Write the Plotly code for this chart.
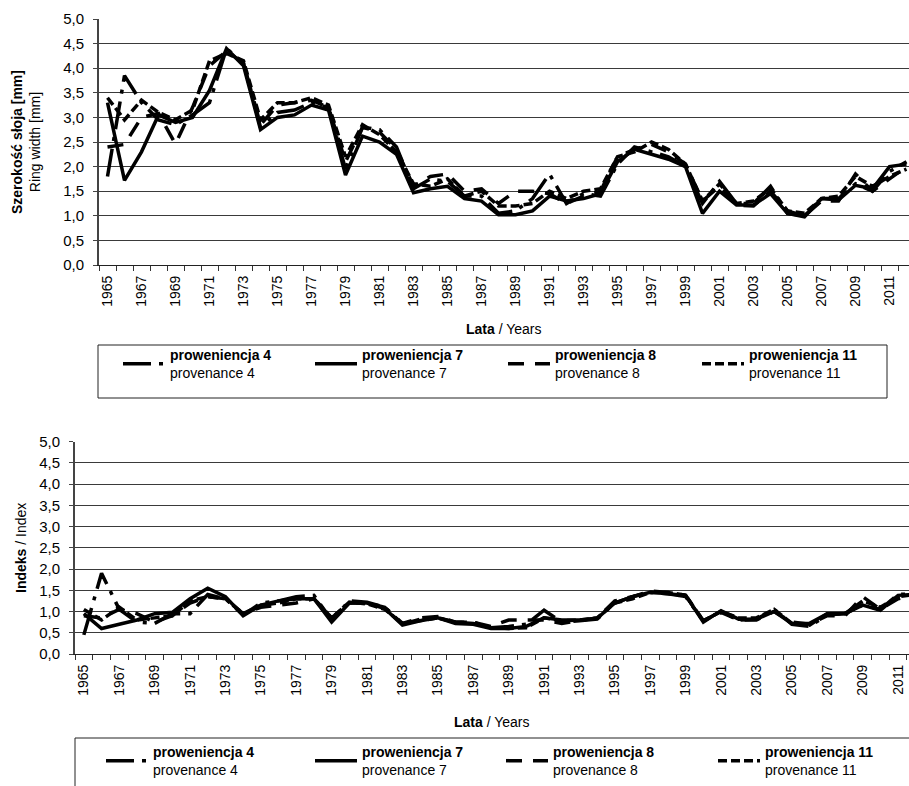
import plotly.graph_objects as go

years = list(range(1965, 2013))
tick_years = [y for y in years if (y - 1965) % 2 == 0 and y <= 2011]

# Ring width [mm]
ring_p4 = [1.80, 3.85, 3.30, 2.95, 2.85, 3.05, 3.30, 4.40, 4.10, 2.80,
           3.10, 3.15, 3.30, 3.20, 1.95, 2.80, 2.75, 2.40, 1.55, 1.75,
           1.70, 1.40, 1.40, 1.05, 1.10, 1.35, 1.85, 1.25, 1.45, 1.40,
           2.05, 2.40, 2.30, 2.20, 2.00, 1.25, 1.70, 1.25, 1.25, 1.60,
           1.05, 1.00, 1.35, 1.35, 1.65, 1.50, 1.90, 2.10]
ring_p7 = [3.30, 1.72, 2.30, 3.05, 2.90, 3.00, 3.55, 4.40, 4.05, 2.75,
           3.00, 3.05, 3.25, 3.15, 1.83, 2.62, 2.50, 2.25, 1.47, 1.55,
           1.60, 1.35, 1.30, 1.02, 1.02, 1.10, 1.40, 1.30, 1.35, 1.45,
           2.10, 2.35, 2.25, 2.15, 2.00, 1.05, 1.50, 1.22, 1.22, 1.45,
           1.05, 0.98, 1.35, 1.32, 1.62, 1.55, 2.00, 2.05]
ring_p8 = [2.40, 2.45, 3.00, 3.08, 2.46, 3.20, 4.05, 4.35, 4.10, 2.85,
           3.25, 3.30, 3.35, 3.20, 2.10, 2.80, 2.70, 2.35, 1.60, 1.80,
           1.85, 1.50, 1.55, 1.25, 1.50, 1.50, 1.45, 1.25, 1.40, 1.50,
           2.20, 2.35, 2.45, 2.30, 2.05, 1.30, 1.60, 1.22, 1.20, 1.50,
           1.10, 1.00, 1.30, 1.30, 1.85, 1.50, 1.75, 2.00]
ring_p11 = [3.40, 2.95, 3.35, 3.10, 2.95, 3.15, 4.15, 4.30, 4.15, 2.95,
            3.30, 3.30, 3.40, 3.25, 2.20, 2.85, 2.65, 2.30, 1.65, 1.60,
            1.75, 1.40, 1.50, 1.20, 1.20, 1.25, 1.50, 1.35, 1.50, 1.55,
            2.20, 2.30, 2.50, 2.35, 2.05, 1.30, 1.65, 1.25, 1.30, 1.55,
            1.10, 1.05, 1.35, 1.40, 1.80, 1.60, 1.80, 1.95]

# Index
idx_p4 = [0.45, 1.90, 1.05, 0.75, 0.72, 0.95, 0.95, 1.40, 1.30, 0.92,
          1.20, 1.25, 1.35, 1.38, 0.80, 1.25, 1.22, 1.10, 0.70, 0.82,
          0.85, 0.75, 0.75, 0.62, 0.65, 0.70, 1.03, 0.75, 0.78, 0.82,
          1.20, 1.35, 1.45, 1.42, 1.35, 0.78, 1.00, 0.80, 0.82, 1.05,
          0.70, 0.65, 0.92, 0.95, 1.15, 1.05, 1.40, 1.42]
idx_p7 = [0.95, 0.60, 0.70, 0.80, 0.95, 0.98, 1.30, 1.55, 1.35, 0.90,
          1.15, 1.25, 1.30, 1.30, 0.75, 1.20, 1.20, 1.07, 0.68, 0.78,
          0.85, 0.72, 0.70, 0.60, 0.60, 0.65, 0.85, 0.80, 0.80, 0.84,
          1.20, 1.35, 1.45, 1.42, 1.38, 0.75, 1.02, 0.82, 0.82, 1.00,
          0.72, 0.72, 0.95, 0.95, 1.15, 1.03, 1.38, 1.40]
idx_p8 = [0.90, 0.85, 1.05, 0.95, 0.75, 0.90, 1.20, 1.35, 1.30, 0.95,
          1.10, 1.15, 1.20, 1.30, 0.85, 1.20, 1.20, 1.10, 0.72, 0.85,
          0.88, 0.75, 0.75, 0.65, 0.80, 0.80, 0.80, 0.72, 0.78, 0.85,
          1.25, 1.35, 1.48, 1.45, 1.38, 0.78, 0.98, 0.80, 0.80, 1.00,
          0.75, 0.70, 0.90, 0.90, 1.35, 1.05, 1.30, 1.40]
idx_p11 = [1.05, 0.80, 1.10, 0.80, 0.85, 0.90, 1.25, 1.35, 1.30, 0.95,
           1.15, 1.20, 1.30, 1.30, 0.85, 1.22, 1.18, 1.05, 0.72, 0.78,
           0.85, 0.75, 0.72, 0.62, 0.60, 0.62, 0.85, 0.78, 0.80, 0.85,
           1.20, 1.30, 1.45, 1.45, 1.38, 0.78, 1.00, 0.85, 0.85, 1.05,
           0.72, 0.68, 0.95, 0.95, 1.25, 1.10, 1.35, 1.40]

names_pl = ["proweniencja 4", "proweniencja 7", "proweniencja 8", "proweniencja 11"]
names_en = ["provenance 4", "provenance 7", "provenance 8", "provenance 11"]

W, H = 909, 786
FONT = "Liberation Sans, Arial, sans-serif"


def fx(p):
    return p / W


def fy(p):
    return 1 - p / H


dashes = ["28px,8px,4px,8px", "solid", "16px,11px", "9px,4px"]
ring = [ring_p4, ring_p7, ring_p8, ring_p11]
idx = [idx_p4, idx_p7, idx_p8, idx_p11]

# legend text start positions (px) for top and bottom legends
top_text_x = [170, 362, 555, 749]
bot_text_x = [153, 362, 553, 765]
ITEMW = 42

fig = go.Figure()
legends = {}
for i in range(4):
    label = f"<b>{names_pl[i]}</b><br>{names_en[i]}"
    lg = "legend" if i == 0 else f"legend{i + 1}"
    fig.add_trace(go.Scatter(x=years, y=ring[i], mode="lines", name=label,
                             showlegend=True,
                             line=dict(color="black", width=3.5, dash=dashes[i]),
                             xaxis="x", yaxis="y", legend=lg))
    legends[lg] = dict(x=fx(top_text_x[i] - ITEMW - 10), y=fy(339), xanchor="left",
                       yanchor="top", itemwidth=ITEMW, bgcolor="rgba(0,0,0,0)",
                       borderwidth=0, font=dict(size=14, family=FONT, color="black"))
for i in range(4):
    label = f"<b>{names_pl[i]}</b><br>{names_en[i]}"
    lg = f"legend{i + 5}"
    fig.add_trace(go.Scatter(x=years, y=idx[i], mode="lines", name=label,
                             showlegend=True,
                             line=dict(color="black", width=3.5, dash=dashes[i]),
                             xaxis="x2", yaxis="y2", legend=lg))
    legends[lg] = dict(x=fx(bot_text_x[i] - ITEMW - 10), y=fy(736), xanchor="left",
                       yanchor="top", itemwidth=ITEMW, bgcolor="rgba(0,0,0,0)",
                       borderwidth=0, font=dict(size=14, family=FONT, color="black"))

minor_vals = [y - 0.5 for y in range(1965, 2014)]
yticks = [i * 0.5 for i in range(11)]


def xaxis_cfg(x0px, cat_w, anchor):
    return dict(domain=[fx(x0px), 1], range=[1964.5, 1964.5 + (W - x0px) / cat_w],
                anchor=anchor, tickmode="array", tickvals=tick_years,
                ticktext=[str(y) for y in tick_years], tickangle=-90,
                ticks="", showgrid=False, zeroline=False, showline=True,
                linecolor="#222", linewidth=1, ticklabelstandoff=4, automargin=False,
                tickfont=dict(size=14, family=FONT, color="black"),
                minor=dict(tickmode="array", tickvals=minor_vals, ticks="outside",
                           ticklen=5, tickcolor="#333", tickwidth=1, showgrid=False))


def yaxis_cfg(top_px, bot_px, anchor):
    return dict(domain=[fy(bot_px), fy(top_px)], range=[0, 5], anchor=anchor,
                tickmode="array", tickvals=yticks, tickformat=".1f",
                showgrid=True, gridcolor="#3a3a3a", gridwidth=1, zeroline=False,
                showline=True, linecolor="#444", linewidth=2, automargin=False,
                ticks="outside", ticklen=4, tickcolor="#444", ticklabelstandoff=6,
                tickfont=dict(size=15, family=FONT, color="black"))


fig.update_layout(
    width=W, height=H, margin=dict(l=0, r=0, t=0, b=0, autoexpand=False),
    paper_bgcolor="white", plot_bgcolor="white", separators=", ",
    showlegend=True,
    font=dict(family=FONT, size=14, color="black"),
    xaxis=xaxis_cfg(99, 17.0, "y"),
    yaxis=yaxis_cfg(19, 265, "x"),
    xaxis2=xaxis_cfg(75, 17.7, "y2"),
    yaxis2=yaxis_cfg(441.5, 654, "x2"),
    shapes=[
        dict(type="rect", xref="paper", yref="paper", x0=fx(98), x1=fx(887),
             y0=fy(398), y1=fy(345), line=dict(color="#222", width=1)),
        dict(type="rect", xref="paper", yref="paper", x0=fx(75), x1=fx(930),
             y0=fy(800), y1=fy(738), line=dict(color="#222", width=1)),
    ],
    annotations=[
        dict(text="<b>Szerokość słoja [mm]</b><br>Ring width [mm]", textangle=-90,
             x=fx(26), y=fy(142), xref="paper", yref="paper", showarrow=False,
             xanchor="center", yanchor="middle", font=dict(size=14, family=FONT)),
        dict(text="<b>Indeks</b> / Index", textangle=-90,
             x=fx(21), y=fy(548), xref="paper", yref="paper", showarrow=False,
             xanchor="center", yanchor="middle", font=dict(size=14, family=FONT)),
        dict(text="<b>Lata</b> / Years", x=fx(504), y=fy(329), xref="paper",
             yref="paper", showarrow=False, xanchor="center", yanchor="middle",
             font=dict(size=14, family=FONT)),
        dict(text="<b>Lata</b> / Years", x=fx(492), y=fy(722), xref="paper",
             yref="paper", showarrow=False, xanchor="center", yanchor="middle",
             font=dict(size=14, family=FONT)),
    ],
    **legends,
)

fig.write_html("out.html", config={"displayModeBar": False},
               post_script="document.body.style.margin='0px';document.body.style.overflow='hidden';")
